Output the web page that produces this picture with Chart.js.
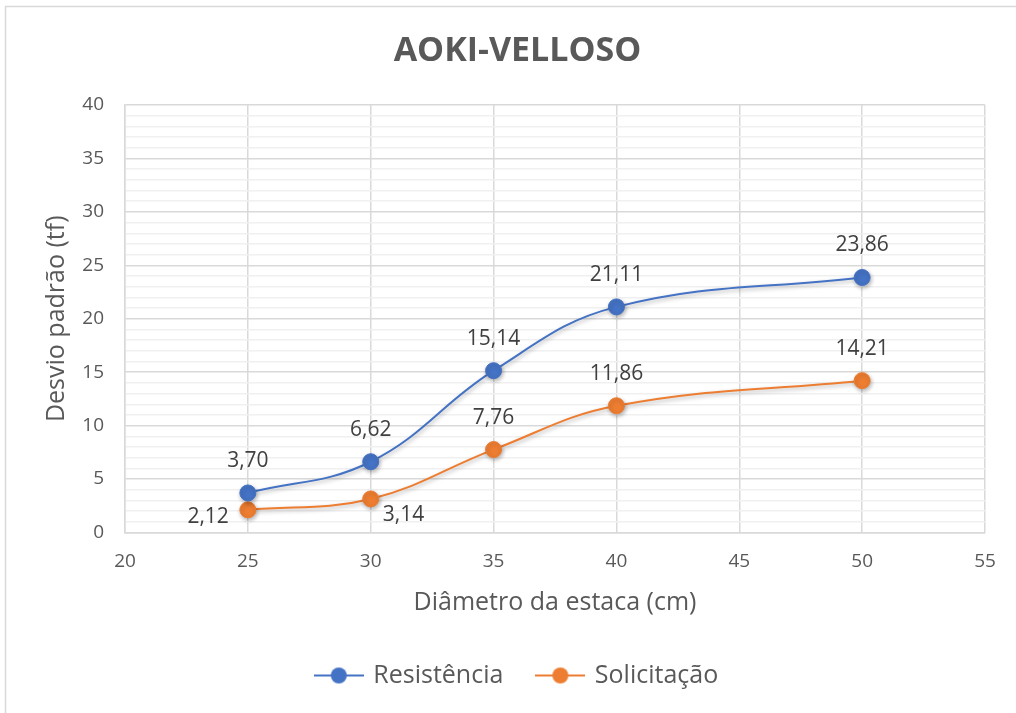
<!DOCTYPE html>
<html lang="pt">
<head>
    <meta charset="UTF-8">
    <title>AOKI-VELLOSO</title>
    <script src="https://cdn.jsdelivr.net/npm/chart.js"></script>
    <style>
        html, body {
            margin: 0;
            padding: 0;
            background: #ffffff;
        }
    </style>
</head>
<body>

    <canvas id="aokiChart" width="1016" height="713"></canvas>

    <script>
        // dados
        const diametros = [25, 30, 35, 40, 50];
        const resistencia = [3.70, 6.62, 15.14, 21.11, 23.86];
        const solicitacao = [2.12, 3.14, 7.76, 11.86, 14.21];
        const xTicks = [20, 25, 30, 35, 40, 45, 50, 55];
        const yTicks = [0, 5, 10, 15, 20, 25, 30, 35, 40];

        const FONT = "'Open Sans', 'Liberation Sans', sans-serif";
        const TEXT = '#595959';
        const BLUE = '#4472C4';
        const ORANGE = '#ED7D31';

        function legendIcon(color) {
            const c = document.createElement('canvas');
            c.width = 50;
            c.height = 20;
            const g = c.getContext('2d');
            g.strokeStyle = color;
            g.lineWidth = 2;
            g.beginPath();
            g.moveTo(0, 10);
            g.lineTo(50, 10);
            g.stroke();
            g.fillStyle = color;
            g.beginPath();
            g.arc(25, 10, 8, 0, Math.PI * 2);
            g.fill();
            return c;
        }
        const icons = [legendIcon(BLUE), legendIcon(ORANGE)];

        const toXY = values => diametros.map((d, i) => ({ x: d, y: values[i] }));

        // moldura do grafico (esquerda e topo)
        const frame = {
            id: 'frame',
            beforeDraw(chart) {
                const ctx = chart.ctx;
                ctx.save();
                ctx.strokeStyle = '#d9d9d9';
                ctx.lineWidth = 1.5;
                ctx.beginPath();
                ctx.moveTo(5.5, chart.height);
                ctx.lineTo(5.5, 6.5);
                ctx.lineTo(chart.width, 6.5);
                ctx.stroke();
                ctx.restore();
            }
        };

        // sombra suave das series
        const shadow = {
            id: 'shadow',
            beforeDatasetDraw(chart) {
                const ctx = chart.ctx;
                ctx.save();
                ctx.shadowColor = 'rgba(0, 0, 0, 0.3)';
                ctx.shadowBlur = 4;
                ctx.shadowOffsetX = 1;
                ctx.shadowOffsetY = 2;
            },
            afterDatasetDraw(chart) {
                chart.ctx.restore();
            }
        };

        // rotulos de valor
        const valueLabels = {
            id: 'valueLabels',
            afterDatasetsDraw(chart, args, opts) {
                const ctx = chart.ctx;
                ctx.save();
                ctx.font = '21px ' + FONT;
                ctx.fillStyle = '#404040';
                ctx.textBaseline = 'middle';
                chart.data.datasets.forEach((ds, di) => {
                    const meta = chart.getDatasetMeta(di);
                    const place = opts.placement[di] || [];
                    meta.data.forEach((pt, i) => {
                        const txt = ds.data[i].y.toFixed(2).replace('.', ',');
                        const where = place[i] || 'above';
                        if (where === 'left') {
                            ctx.textAlign = 'right';
                            ctx.fillText(txt, pt.x - 19, pt.y + 7);
                        } else if (where === 'belowRight') {
                            ctx.textAlign = 'left';
                            ctx.fillText(txt, pt.x + 12, pt.y + 16);
                        } else {
                            ctx.textAlign = 'center';
                            ctx.fillText(txt, pt.x, pt.y - 32);
                        }
                    });
                });
                ctx.restore();
            }
        };

        const ctx = document.getElementById('aokiChart').getContext('2d');
        new Chart(ctx, {
            type: 'line',
            data: {
                datasets: [
                    {
                        label: 'Resistência',
                        data: toXY(resistencia),
                        borderColor: BLUE,
                        backgroundColor: BLUE,
                        borderWidth: 2,
                        pointRadius: 8,
                        pointHoverRadius: 8,
                        pointBorderWidth: 1,
                        tension: 0.4
                    },
                    {
                        label: 'Solicitação',
                        data: toXY(solicitacao),
                        borderColor: ORANGE,
                        backgroundColor: ORANGE,
                        borderWidth: 2,
                        pointRadius: 8,
                        pointHoverRadius: 8,
                        pointBorderWidth: 1,
                        tension: 0.4
                    }
                ]
            },
            plugins: [frame, shadow, valueLabels],
            options: {
                responsive: false,
                animation: false,
                devicePixelRatio: 1,
                layout: {
                    padding: { left: 50, right: 31, top: 0, bottom: 15 }
                },
                plugins: {
                    title: {
                        display: true,
                        text: 'AOKI-VELLOSO',
                        color: TEXT,
                        font: { family: FONT, size: 34, weight: 'bold' },
                        padding: { top: 31, bottom: 33.2 }
                    },
                    legend: {
                        position: 'bottom',
                        labels: {
                            usePointStyle: true,
                            pointStyleWidth: 44,
                            padding: 35,
                            color: TEXT,
                            font: { family: FONT, size: 25 },
                            generateLabels: chart => chart.data.datasets.map((ds, i) => ({
                                text: ds.label,
                                fillStyle: ds.backgroundColor,
                                strokeStyle: ds.borderColor,
                                fontColor: TEXT,
                                lineWidth: 0,
                                pointStyle: icons[i],
                                datasetIndex: i
                            }))
                        }
                    },
                    tooltip: { enabled: false },
                    valueLabels: {
                        placement: [[], ['left', 'belowRight']]
                    }
                },
                scales: {
                    x: {
                        type: 'linear',
                        min: xTicks[0],
                        max: xTicks[xTicks.length - 1],
                        ticks: {
                            stepSize: xTicks[1] - xTicks[0],
                            color: TEXT,
                            font: { family: FONT, size: 19 },
                            padding: 18
                        },
                        grid: { color: '#d9d9d9', lineWidth: 1.5, drawTicks: false },
                        border: { color: '#d9d9d9', width: 1.5 },
                        title: {
                            display: true,
                            text: 'Diâmetro da estaca (cm)',
                            color: TEXT,
                            font: { family: FONT, size: 25 },
                            padding: { top: 0, bottom: 10.5 }
                        },
                        afterFit(scale) {
                            scale.height = 95.5;
                        }
                    },
                    y: {
                        min: yTicks[0],
                        max: yTicks[yTicks.length - 1],
                        ticks: {
                            stepSize: 1,
                            autoSkip: false,
                            color: TEXT,
                            font: { family: FONT, size: 19 },
                            padding: 21,
                            callback: value => yTicks.includes(value) ? value : ''
                        },
                        grid: {
                            color: c => yTicks.includes(c.tick.value) ? '#d9d9d9' : '#f0f0f0',
                            lineWidth: 1.5,
                            drawTicks: false
                        },
                        border: { color: '#d9d9d9', width: 1.5 },
                        title: {
                            display: true,
                            text: 'Desvio padrão (tf)',
                            color: TEXT,
                            font: { family: FONT, size: 25 },
                            padding: { top: -8, bottom: 0 }
                        },
                        afterFit(scale) {
                            scale.width = 75;
                        }
                    }
                }
            }
        });
    </script>
</body>
</html>
